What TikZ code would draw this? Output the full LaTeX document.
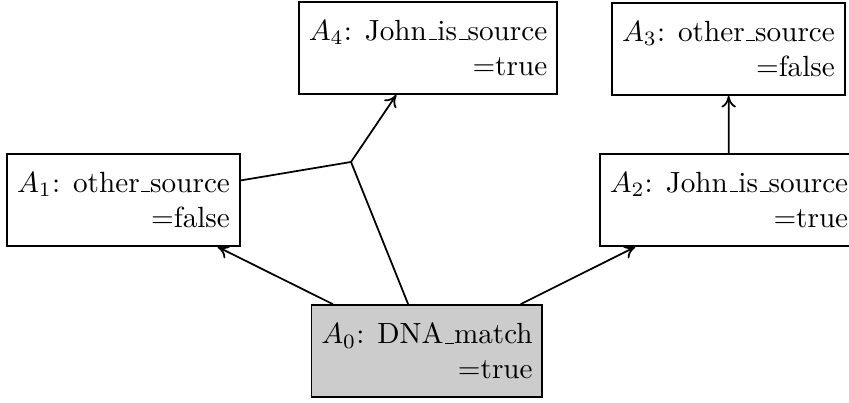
\documentclass[tikz,border=0pt]{standalone}
\usepackage{amsmath, amssymb}
\usepackage{tikz}
\usetikzlibrary{arrows,arrows.meta}
\newcommand{\usc}{\leavevmode\kern.06em\vbox{\hrule width.3em}}
\tikzstyle{argbox}=[draw, align=right, fill=white, minimum height=31.5pt]
\tikzstyle{given}=[fill=gray!40]
\begin{document}
\begin{tikzpicture}[semithick, >={To[length=4pt,width=5pt]}]
	\useasboundingbox (0,0) rectangle (10.222,-4.852);
	\node[argbox] (a4) at (5.153,-0.578) {$A_4$: John\usc is\usc source\\=true};
	\node[argbox] (a3) at (8.771,-0.59) {$A_3$: other\usc source\\=false};
	\node[argbox] (a1) at (1.487,-2.408) {$A_1$: other\usc source\\=false};
	\node[argbox] (a2) at (8.777,-2.408) {$A_2$: John\usc is\usc source\\=true};
	\node[argbox,given] (a0) at (5.141,-4.226) {$A_0$: DNA\usc match\\=true};
	\coordinate (j) at (4.226,-1.95);
	\draw (a1) -- (j);
	\draw (a0) -- (j);
	\draw[->] (j) -- (a4);
	\draw[->] (a0) -- (a1);
	\draw[->] (a0) -- (a2);
	\draw[->] (a2) -- (a3);
\end{tikzpicture}
\end{document}
